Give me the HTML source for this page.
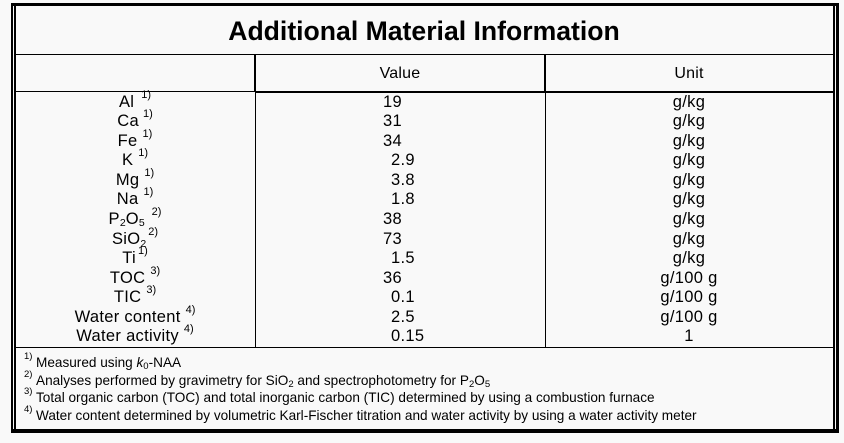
<!DOCTYPE html>
<html>
<head>
<meta charset="utf-8">
<style>
  html,body{margin:0;padding:0;}
  body{width:844px;height:443px;overflow:hidden;background:#f9f9f9;position:relative;
       font-family:"Liberation Sans",Arial,sans-serif;color:#000;}
  .ln{position:absolute;background:#000;}
  .title{position:absolute;left:15px;width:818px;top:15.8px;line-height:30px;height:30px;
         text-align:center;font-weight:bold;font-size:26.6px;white-space:nowrap;}
  .hdr{position:absolute;top:63.8px;line-height:20px;height:20px;font-size:16px;letter-spacing:0.2px;text-align:center;white-space:nowrap;}
  .row{position:absolute;left:0;width:844px;height:19.53px;line-height:19.53px;font-size:16.5px;letter-spacing:0.3px;white-space:nowrap;}
  .lab{position:absolute;left:15px;width:240px;text-align:center;}
  .vi{position:absolute;left:383px;}
  .vd{position:absolute;left:391px;}
  .u{position:absolute;left:545px;width:288px;text-align:center;}
  .sp{font-size:11px;position:relative;top:-9px;margin-left:5px;letter-spacing:0;}
  .sb{font-size:10.5px;position:relative;top:2px;letter-spacing:0;}
  .fn{position:absolute;left:0;height:17.6px;line-height:17.6px;font-size:13.6px;white-space:nowrap;}
  .fn .n{position:absolute;left:24px;font-size:9.5px;top:-6px;}
  .fn .t{position:absolute;left:36px;}
  .fsb{font-size:9.5px;position:relative;top:2px;}
</style>
</head>
<body>
  <!-- outer frame -->
  <div class="ln" style="left:11px;top:3px;width:828px;height:3px;"></div>
  <div class="ln" style="left:11px;top:3px;width:2px;height:430px;"></div>
  <div class="ln" style="left:836px;top:3px;width:3px;height:430px;"></div>
  <div class="ln" style="left:11px;top:429px;width:828px;height:4px;"></div>
  <div class="ln" style="left:14px;top:3px;width:1.5px;height:427px;"></div>
  <div class="ln" style="left:833px;top:3px;width:1.5px;height:427px;"></div>

  <!-- horizontal lines -->
  <div class="ln" style="left:15px;top:54px;width:818px;height:1px;"></div>
  <div class="ln" style="left:15px;top:91px;width:240px;height:1.2px;"></div>
  <div class="ln" style="left:255px;top:91px;width:578px;height:2px;"></div>
  <div class="ln" style="left:15px;top:346.5px;width:818px;height:1.2px;"></div>

  <!-- vertical column lines -->
  <div class="ln" style="left:254px;top:54px;width:2px;height:38px;"></div>
  <div class="ln" style="left:255px;top:92px;width:1.2px;height:255px;"></div>
  <div class="ln" style="left:544px;top:54px;width:2px;height:38px;"></div>
  <div class="ln" style="left:545px;top:92px;width:1.2px;height:255px;"></div>

  <div class="title">Additional Material Information</div>
  <div class="hdr" style="left:255px;width:290px;">Value</div>
  <div class="hdr" style="left:545px;width:288px;">Unit</div>

  <div class="row" style="top:92.8px"><div class="lab">Al<span class="sp" style="margin-left:7px">1)</span></div><div class="vi">19</div><div class="u">g/kg</div></div>
  <div class="row" style="top:112.33px"><div class="lab">Ca<span class="sp" style="margin-left:4px">1)</span></div><div class="vi">31</div><div class="u">g/kg</div></div>
  <div class="row" style="top:131.86px"><div class="lab">Fe<span class="sp">1)</span></div><div class="vi">34</div><div class="u">g/kg</div></div>
  <div class="row" style="top:151.39px"><div class="lab">K<span class="sp">1)</span></div><div class="vd">2.9</div><div class="u">g/kg</div></div>
  <div class="row" style="top:170.92px"><div class="lab">Mg<span class="sp">1)</span></div><div class="vd">3.8</div><div class="u">g/kg</div></div>
  <div class="row" style="top:190.45px"><div class="lab">Na<span class="sp">1)</span></div><div class="vd">1.8</div><div class="u">g/kg</div></div>
  <div class="row" style="top:209.98px"><div class="lab">P<span class="sb">2</span>O<span class="sb">5</span><span class="sp" style="margin-left:7px">2)</span></div><div class="vi">38</div><div class="u">g/kg</div></div>
  <div class="row" style="top:229.51px"><div class="lab">SiO<span class="sb" style="top:3px">2</span><span class="sp" style="margin-left:2px">2)</span></div><div class="vi">73</div><div class="u">g/kg</div></div>
  <div class="row" style="top:249.04px"><div class="lab">Ti<span class="sp" style="margin-left:2px">1)</span></div><div class="vd">1.5</div><div class="u">g/kg</div></div>
  <div class="row" style="top:268.57px"><div class="lab">TOC<span class="sp">3)</span></div><div class="vi">36</div><div class="u">g/100 g</div></div>
  <div class="row" style="top:288.1px"><div class="lab">TIC<span class="sp">3)</span></div><div class="vd">0.1</div><div class="u">g/100 g</div></div>
  <div class="row" style="top:307.63px"><div class="lab">Water content<span class="sp">4)</span></div><div class="vd">2.5</div><div class="u">g/100 g</div></div>
  <div class="row" style="top:327.16px"><div class="lab">Water activity<span class="sp">4)</span></div><div class="vd">0.15</div><div class="u">1</div></div>

  <div class="fn" style="top:353.8px"><span class="n">1)</span><span class="t">Measured using <i>k</i><span class="fsb">0</span>-NAA</span></div>
  <div class="fn" style="top:371.5px"><span class="n">2)</span><span class="t">Analyses performed by gravimetry for SiO<span class="fsb">2</span> and spectrophotometry for P<span class="fsb">2</span>O<span class="fsb">5</span></span></div>
  <div class="fn" style="top:389.2px"><span class="n">3)</span><span class="t">Total organic carbon (TOC) and total inorganic carbon (TIC) determined by using a combustion furnace</span></div>
  <div class="fn" style="top:406.5px"><span class="n">4)</span><span class="t">Water content determined by volumetric Karl-Fischer titration and water activity by using a water activity meter</span></div>
</body>
</html>
